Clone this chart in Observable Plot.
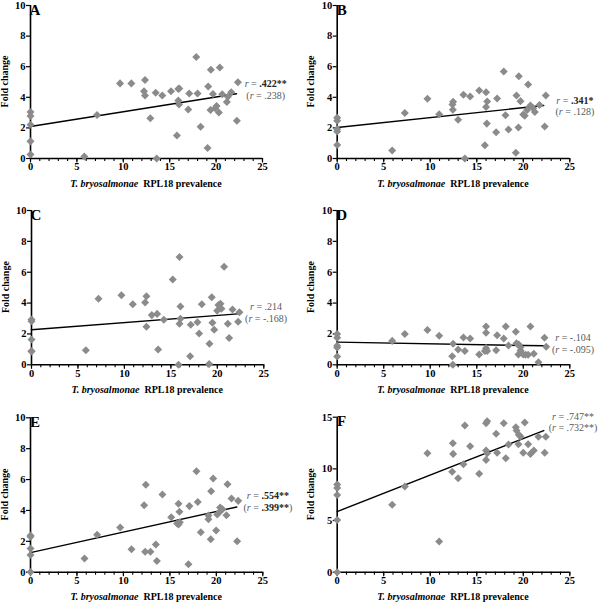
<!DOCTYPE html>
<html><head><meta charset="utf-8">
<script src="https://cdn.jsdelivr.net/npm/d3@7"></script>
<script src="https://cdn.jsdelivr.net/npm/@observablehq/plot@0.6"></script>
<style>
html,body{margin:0;padding:0;background:#fff;}
#wrap{position:relative;width:600px;height:602px;overflow:hidden;background:#fff;}
#wrap svg{position:absolute;overflow:visible;}
#wrap svg, #wrap svg text, #wrap svg tspan{font-family:"Liberation Serif","Times New Roman","DejaVu Serif",serif !important;}
</style></head><body><div id="wrap"></div>
<script>
// ---- data ----
const xA = [0,0,0,0,0,5.8,7.17,9.65,10.87,12.34,12.23,12.34,12.91,13.49,13.6,14.2,15.14,15.78,15.93,16.03,15.93,16.0,17.0,17.1,17.86,18.0,18.33,19.15,19.08,19.44,19.4,19.66,19.9,20.05,20.3,20.4,20.66,21.16,21.27,21.63,22.24,22.35];
const yA = [3.04,2.78,2.2,1.12,0.26,0.13,2.84,4.91,4.91,5.13,4.4,4.12,2.63,4.29,0,4.12,4.4,1.51,4.55,4.58,3.79,3.53,3.21,4.25,6.64,4.25,2.07,4.7,0.69,5.8,3.17,4.22,3.28,3.43,3.0,5.95,4.2,3.69,4.03,4.33,2.46,4.98];
const xB = [0,0,0,0,0,5.91,7.27,9.7,10.96,12.39,12.46,12.43,13.0,13.57,13.72,14.29,15.26,15.87,16.0,16.0,16.12,16.08,17.08,17.19,17.9,18.09,18.41,19.2,19.27,19.52,19.48,19.7,20.0,20.16,20.41,20.52,20.77,21.06,21.24,21.74,22.3,22.42];
const yB = [2.67,2.46,1.92,1.77,0.88,0.52,2.97,3.9,2.89,3.53,3.71,3.19,2.54,4.16,0,4.05,4.44,0.86,4.33,3.36,3.73,2.28,1.72,3.92,5.69,2.82,1.9,0.37,4.12,5.37,2.02,3.75,2.87,2.8,3.17,4.83,3.47,3.28,3.04,3.49,2.09,4.12];
const xC = [0,0,0,0,0,5.85,7.21,9.68,10.9,12.23,12.37,12.37,12.95,13.52,13.63,14.24,15.2,15.82,15.93,15.93,16.03,16.03,17.07,17.14,17.86,18.04,18.33,19.15,19.12,19.4,19.47,19.66,19.98,20.12,20.34,20.44,20.73,21.13,21.27,21.63,22.24,22.38];
const yC = [2.94,2.83,1.64,0.86,0.9,0.95,4.28,4.51,3.93,4.04,4.45,2.46,3.22,3.3,0.99,2.92,5.53,0,6.98,2.66,2.98,3.78,0.56,2.59,2.76,2.03,3.93,1.36,0.05,4.38,2.72,2.27,3.5,3.87,3.95,3.63,6.35,2.66,1.73,3.59,2.79,3.41];
const xD = [0,0,0,0,0,5.91,7.27,9.7,10.96,12.36,12.46,12.43,13.0,13.57,13.72,14.29,15.26,16.0,16.0,16.0,15.87,16.12,17.08,17.19,17.9,18.12,18.41,19.2,19.27,19.52,19.48,19.7,19.7,20.0,20.24,20.52,20.77,21.13,21.63,22.28,22.46];
const yD = [2.0,1.75,1.23,1.12,0.54,1.55,1.99,2.25,1.88,0.56,1.36,0,0.99,1.77,0.89,1.71,0.67,2.48,2.07,1.08,0.89,0.89,0.95,1.92,1.71,2.48,1.25,2.14,1.4,1.32,0.67,1.14,0.93,0.67,0.65,0.65,2.48,0.71,0.17,1.75,1.17];
const xE = [0,0,0,0,0,5.81,7.17,9.65,10.87,12.23,12.41,12.34,12.91,13.49,13.6,14.2,15.14,15.78,15.93,16.03,15.93,16.07,17.0,17.1,17.86,18.0,18.33,19.15,19.15,19.4,19.44,19.66,19.98,20.09,20.3,20.41,20.66,21.09,21.2,21.63,22.24,22.35];
const yE = [2.38,2.29,1.53,1.12,0.02,0.89,2.42,2.89,1.49,4.34,5.66,1.32,1.32,1.79,0.73,5.03,3.56,3.15,4.43,3.91,3.09,3.24,0.52,4.28,6.54,4.54,2.59,3.43,3.67,2.14,5.25,6.07,2.7,3.74,3.87,4.19,4.08,3.69,5.7,4.77,2.01,4.62];
const xF = [0,0,0,0,0,5.91,7.27,9.7,10.96,12.36,12.43,12.46,13.0,13.57,13.72,14.29,15.26,16.0,16.12,16.0,16.0,16.12,17.08,17.19,17.9,18.12,18.41,19.2,19.27,19.52,19.48,19.7,20.0,20.16,20.52,20.77,21.13,21.63,22.3,22.42];
const yF = [8.48,8.16,7.48,5.06,0,6.52,8.29,11.52,2.97,9.71,12.48,11.45,9.1,10.45,14.19,12.19,9.52,14.42,14.61,11.77,10.87,11.52,13.39,11.55,14.42,11.03,12.35,14.03,13.71,13.29,12.39,13.13,11.55,14.48,12.39,11.45,11.77,13.1,11.55,13.1];

// regression lines: [intercept, slope]
const fitA = [2.09, 0.0964];
const fitB = [2.03, 0.0646];
const fitC = [2.27, 0.0463];
const fitD = [1.47, -0.0108];
const fitE = [1.27, 0.133];
const fitF = [5.87, 0.353];

// correlation labels: [first line value, second line value]
const rA = [".422**", ".238"];
const rB = [".341*", ".128"];
const rC = [".214", "-.168"];
const rD = ["-.104", "-.095"];
const rE = [".554**", ".399**"];
const rF = [".747**", ".732**"];

const panelLetters = ["A","B","C","D","E","F"];
const xTicksMajor = [0,5,10,15,20,25];
const xTicksMinor = d3.range(0, 26);
const yTicks10 = [0,2,4,6,8,10];
const yTicks15 = [0,5,10,15];
const xLabelItalic = "T. bryosalmonae";
const xLabelRest = "RPL18 prevalence";
const yLabel = "Fold change";

// ---- layout / style ----
const SERIF = "Liberation Serif, Times New Roman, DejaVu Serif, serif";
const LINE_END = 22.2;
const panels = [
  {xs:xA, ys:yA, fit:fitA, r:rA, left:0,   top:0,   h:200, m:[5,38,42,30],       yMax:10, yTicks:yTicks10, ann:[25.4,4.63],  lh:11.7, bold:[true,false]},
  {xs:xB, ys:yB, fit:fitB, r:rB, left:300, top:0,   h:200, m:[5,30.7,42,36.7],   yMax:10, yTicks:yTicks10, ann:[25.6,3.55],  lh:11.5, bold:[true,false]},
  {xs:xC, ys:yC, fit:fitC, r:rC, left:0,   top:200, h:200, m:[10,36.7,35.7,31],  yMax:10, yTicks:yTicks10, ann:[25.3,3.49],  lh:11.5, bold:[false,false]},
  {xs:xD, ys:yD, fit:fitD, r:rD, left:300, top:200, h:200, m:[10,30.7,35.7,36.7],yMax:10, yTicks:yTicks10, ann:[25.4,1.54],  lh:12,   bold:[false,false]},
  {xs:xE, ys:yE, fit:fitE, r:rE, left:0,   top:400, h:202, m:[17.3,37.7,30.3,30],yMax:10, yTicks:yTicks10, ann:[25.6,4.74],  lh:12,   bold:[true,true]},
  {xs:xF, ys:yF, fit:fitF, r:rF, left:300, top:400, h:202, m:[16.7,30.7,30.3,36.7],yMax:15,yTicks:yTicks15, ann:[25.4,14.64], lh:10.5, bold:[false,false]}
];

const diamond = {
  draw(context, size) {
    const s = Math.sqrt(size / 2);
    context.moveTo(0, -s); context.lineTo(s, 0); context.lineTo(0, s); context.lineTo(-s, 0); context.closePath();
  }
};

function addSegs(parent, segs) {
  segs.forEach(s => {
    const t = parent.append("tspan").text(s.t);
    if (s.i) t.attr("font-style", "italic");
    if (s.b) t.attr("font-weight", "bold").attr("fill", "#222");
  });
}

function textMarks(p, letter) {
  return (index, scales, values, dims) => {
    const g = d3.create("svg:g").attr("font-family", SERIF);
    const fx0 = dims.marginLeft, fx1 = dims.width - dims.marginRight;
    const fy0 = dims.marginTop, fy1 = dims.height - dims.marginBottom;
    // panel letter
    g.append("text").attr("x", fx0 + 5).attr("y", fy0 + 9.5)
      .attr("font-size", 15).attr("font-weight", "bold").attr("fill", "#000").text(letter);
    // y label
    g.append("text").attr("transform", `translate(${fx0 - 26},${(fy0 + fy1) / 2}) rotate(-90)`)
      .attr("text-anchor", "middle").attr("dominant-baseline", "central")
      .attr("font-size", 10).attr("font-weight", "bold").attr("fill", "#000").text(yLabel);
    // x label
    const xl = g.append("text").attr("x", (fx0 + fx1) / 2).attr("y", fy1 + 28.5)
      .attr("text-anchor", "middle").attr("font-size", 10).attr("font-weight", "bold").attr("fill", "#000");
    addSegs(xl, [{t: xLabelItalic, i: true}, {t: "\u00a0\u00a0" + xLabelRest}]);
    // annotation
    const ax = scales.x(p.ann[0]), ay = scales.y(p.ann[1]);
    const at = g.append("text").attr("text-anchor", "middle").attr("font-size", 10)
      .attr("font-weight", "normal").attr("fill", "#5a5a5a");
    const l1 = at.append("tspan").attr("x", ax).attr("y", ay);
    addSegs(l1, [{t: "r", i: true}, {t: "\u00a0=\u00a0"}, {t: p.r[0], b: p.bold[0]}]);
    const l2 = at.append("tspan").attr("x", ax).attr("y", ay + p.lh);
    addSegs(l2, [{t: "("}, {t: "r", i: true}, {t: "\u00a0=\u00a0"}, {t: p.r[1], b: p.bold[1]}, {t: ")"}]);
    return g.node();
  };
}

const wrap = document.getElementById("wrap");
panels.forEach((p, k) => {
  const data = p.xs.map((x, i) => ({x, y: p.ys[i]}));
  const [b, m] = p.fit;
  const fitLine = [0, LINE_END].map(x => ({x, y: b + m * x}));
  const svg = Plot.plot({
    width: 300, height: p.h,
    marginTop: p.m[0], marginRight: p.m[1], marginBottom: p.m[2], marginLeft: p.m[3],
    style: {fontFamily: SERIF, fontSize: "10.5px", fontWeight: "bold", color: "#000", background: "transparent", overflow: "visible"},
    x: {domain: [0, 25]},
    y: {domain: [0, p.yMax]},
    marks: [
      Plot.axisX({ticks: xTicksMinor, tickSize: 3, tickFormat: () => "", label: null, strokeWidth: 1.1}),
      Plot.axisX({ticks: xTicksMajor, tickSize: 4.5, tickPadding: 0, label: null, strokeWidth: 1.2, fontSize: 10.5}),
      Plot.axisY({ticks: p.yTicks, tickSize: 4, tickPadding: 1, label: null, strokeWidth: 1.2, fontSize: 10.5}),
      Plot.ruleY([0], {stroke: "#000", strokeWidth: 1.6}),
      Plot.ruleX([0], {stroke: "#000", strokeWidth: 1.6}),
      Plot.line(fitLine, {x: "x", y: "y", stroke: "#000", strokeWidth: 1.4}),
      Plot.dot(data, {x: "x", y: "y", symbol: diamond, r: 3.2, fill: "#8b8b8b", stroke: "none"}),
      textMarks(p, panelLetters[k])
    ]
  });
  svg.style.left = p.left + "px";
  svg.style.top = p.top + "px";
  wrap.appendChild(svg);
});
</script></body></html>
